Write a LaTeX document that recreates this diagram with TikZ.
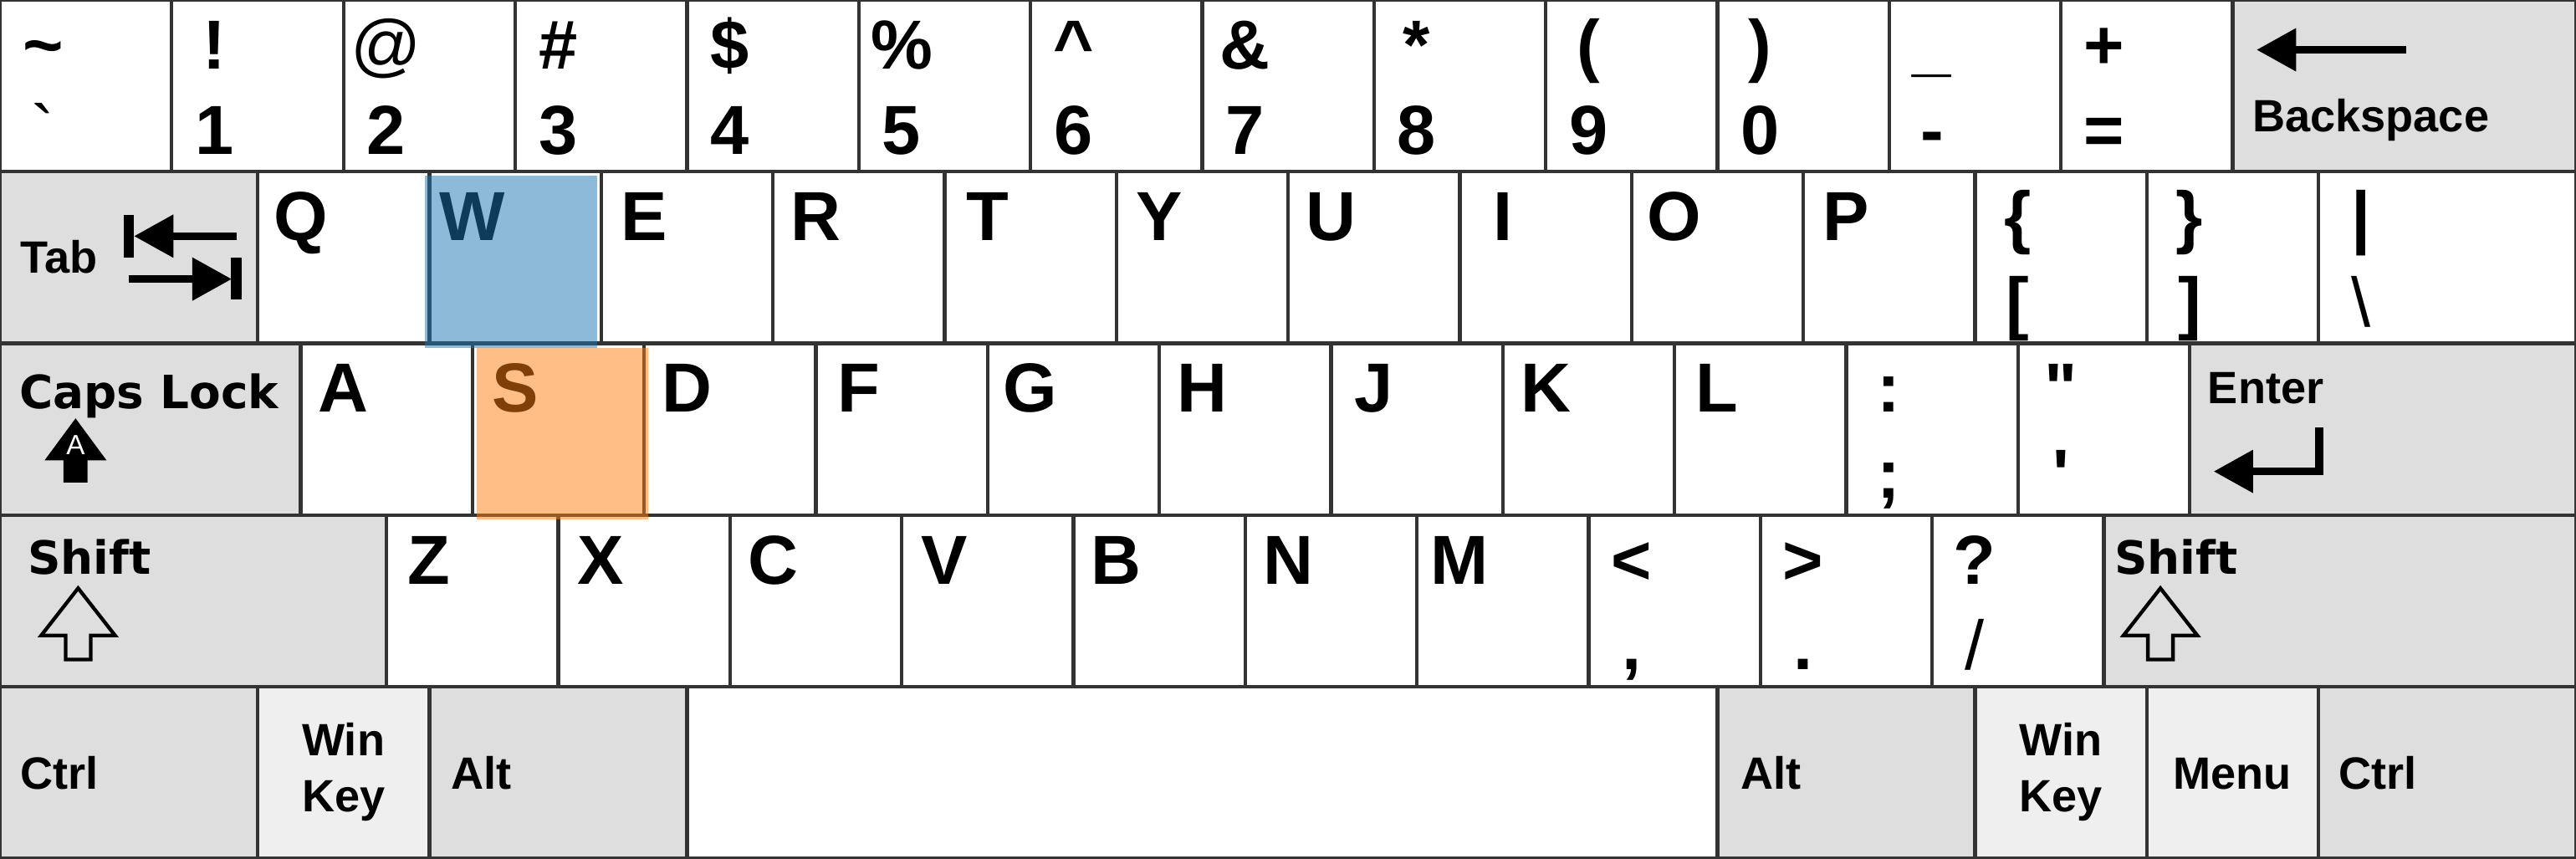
\documentclass[tikz,border=0pt]{standalone}
\usepackage{fontspec}
\usepackage{tikz}
\usetikzlibrary{arrows.meta}
\newfontfamily\keyfont{Liberation Sans}
\newfontfamily\widefont{DejaVu Sans}
\definecolor{keyline}{HTML}{333333}
\definecolor{modgray}{HTML}{DEDEDE}
\definecolor{litegray}{HTML}{EFEFEF}
\definecolor{tabblue}{HTML}{1F77B4}
\definecolor{taborange}{HTML}{FF7F0E}

\begin{document}
\begin{tikzpicture}[
    y=-1cm,
    key/.style={rectangle, draw=keyline, line width=0.6pt, fill=white, minimum width=1cm, minimum height=1cm, inner sep=0pt, outer sep=0pt, anchor=north west},
    modkey/.style={key, fill=modgray},
    litekey/.style={key, fill=litegray},
    toplabel/.style={anchor=base, inner sep=0pt, font=\keyfont\bfseries\fontsize{11.5}{12}\selectfont},
    botlabel/.style={toplabel},
    modlabel/.style={anchor=base west, inner sep=0pt, font=\keyfont\bfseries\fontsize{7.5}{9}\selectfont},
    modcenter/.style={modlabel, anchor=base},
    widelabel/.style={anchor=base west, inner sep=0pt, font=\widefont\bfseries\fontsize{7.6}{9}\selectfont},
    keyarrow/.style={line width=1.3pt, -{Triangle[length=0.23cm, width=0.24cm]}},
    keybar/.style={line width=1.8pt},
    hollowarrow/.style={draw=black, line width=0.6pt, line join=miter},
    hilite/.style={rectangle, minimum width=1cm, minimum height=1cm, inner sep=0pt, outer sep=0pt, anchor=north west, fill opacity=0.5}
]
\useasboundingbox (0,0) rectangle (15,5);

% Number row
\foreach \up/\low [count=\i from 0] in {\textasciitilde/{\mdseries\textasciigrave}, !/1, {\mdseries @}/2, \#/3, \$/4, \%/5, \textasciicircum/6, \&/7, */8, {(}/9, {)}/0, \_/-, +/=}
{
    \node[key] (num\i) at (\i, 0) {};
    \node[toplabel] (num\i-t) at (\i+0.25, 0.40) {\up};
    \node[botlabel] (num\i-b) at (\i+0.25, 0.90) {\low};
}
\node[modkey, minimum width=2cm] (bksp) at (13, 0) {};
\draw[keyarrow] (14.01, 0.29) -- (13.14, 0.29);
\node[modlabel] (bksp-txt) at (13.11, 0.765) {Backspace};

% Top letter row
\node[modkey, minimum width=1.5cm] (tab) at (0, 1) {};
\node[modlabel] (tab-txt) at (0.11, 1.59) {Tab};
\draw[keybar] (0.75, 1.25) -- (0.75, 1.50);
\draw[keyarrow] (1.38, 1.375) -- (0.78, 1.375);
\draw[keyarrow] (0.75, 1.625) -- (1.35, 1.625);
\draw[keybar] (1.375, 1.50) -- (1.375, 1.745);
\foreach \c [count=\i from 0] in {Q,W,E,R,T,Y,U,I,O,P}
{
    \node[key] (top\i) at (1.5+\i, 1) {};
    \node[toplabel] (top\i-t) at (1.75+\i, 1.40) {\c};
}
\foreach \up/\low/\x [count=\j] in {\{/[/11.5, \}/]/12.5}
{
    \node[key] (br\j) at (\x, 1) {};
    \node[toplabel] (br\j-t) at (\x+0.25, 1.40) {\up};
    \node[botlabel] (br\j-b) at (\x+0.25, 1.90) {\low};
}
\node[key, minimum width=1.5cm] (bslash) at (13.5, 1) {};
\node[toplabel] (bslash-t) at (13.75, 1.40) {|};
\node[botlabel] (bslash-b) at (13.75, 1.90) {\mdseries\textbackslash};

% Home row
\node[modkey, minimum width=1.75cm] (caps) at (0, 2) {};
\node[widelabel] (caps-txt) at (0.107, 2.38) {Caps Lock};
\fill (0.44, 2.436) -- ++(0.18, 0.244) -- ++(-0.11, 0) -- ++(0, 0.13) -- ++(-0.14, 0) -- ++(0, -0.13) -- ++(-0.11, 0) -- cycle;
\node[anchor=base, inner sep=0pt, text=white, font=\keyfont\fontsize{4.6}{5}\selectfont] (caps-a) at (0.44, 2.645) {A};
\foreach \c [count=\i from 0] in {A,S,D,F,G,H,J,K,L}
{
    \node[key] (home\i) at (1.75+\i, 2) {};
    \node[toplabel] (home\i-t) at (2.0+\i, 2.40) {\c};
}
\foreach \up/\low/\x [count=\j] in {:/;/10.75, \textquotedbl/\textquotesingle/11.75}
{
    \node[key] (semi\j) at (\x, 2) {};
    \node[toplabel] (semi\j-t) at (\x+0.25, 2.40) {\up};
    \node[botlabel] (semi\j-b) at (\x+0.25, 2.90) {\low};
}
\node[modkey, minimum width=2.25cm] (enter) at (12.75, 2) {};
\node[modlabel] (enter-txt) at (12.85, 2.35) {Enter};
\draw[keyarrow, line join=miter] (13.505, 2.49) -- (13.505, 2.745) -- (12.89, 2.745);

% Bottom letter row
\node[modkey, minimum width=2.25cm] (lshift) at (0, 3) {};
\node[widelabel] (lshift-txt) at (0.155, 3.345) {Shift};
\draw[hollowarrow] (0.455, 3.425) -- ++(0.215, 0.275) -- ++(-0.142, 0) -- ++(0, 0.14) -- ++(-0.146, 0) -- ++(0, -0.14) -- ++(-0.142, 0) -- cycle;
\foreach \c [count=\i from 0] in {Z,X,C,V,B,N,M}
{
    \node[key] (low\i) at (2.25+\i, 3) {};
    \node[toplabel] (low\i-t) at (2.5+\i, 3.40) {\c};
}
\foreach \up/\low/\x [count=\j] in {</{,}/9.25, >/./10.25, ?/{\mdseries /}/11.25}
{
    \node[key] (punct\j) at (\x, 3) {};
    \node[toplabel] (punct\j-t) at (\x+0.25, 3.40) {\up};
    \node[botlabel] (punct\j-b) at (\x+0.25, 3.90) {\low};
}
\node[modkey, minimum width=2.75cm] (rshift) at (12.25, 3) {};
\node[widelabel] (rshift-txt) at (12.305, 3.345) {Shift};
\draw[hollowarrow] (12.58, 3.425) -- ++(0.215, 0.275) -- ++(-0.142, 0) -- ++(0, 0.14) -- ++(-0.146, 0) -- ++(0, -0.14) -- ++(-0.142, 0) -- cycle;

% Space row
\node[modkey, minimum width=1.5cm] (lctrl) at (0, 4) {};
\node[litekey] (lwin) at (1.5, 4) {};
\node[modkey, minimum width=1.5cm] (lalt) at (2.5, 4) {};
\node[key, minimum width=6cm] (space) at (4, 4) {};
\node[modkey, minimum width=1.5cm] (ralt) at (10, 4) {};
\node[litekey] (rwin) at (11.5, 4) {};
\node[litekey] (menu) at (12.5, 4) {};
\node[modkey, minimum width=1.5cm] (rctrl) at (13.5, 4) {};
\node[modlabel] (lctrl-txt) at (0.11, 4.595) {Ctrl};
\node[modcenter] (lwin-t) at (2.0, 4.40) {Win};
\node[modcenter] (lwin-b) at (2.0, 4.725) {Key};
\node[modlabel] (lalt-txt) at (2.62, 4.595) {Alt};
\node[modlabel] (ralt-txt) at (10.13, 4.595) {Alt};
\node[modcenter] (rwin-t) at (12.0, 4.40) {Win};
\node[modcenter] (rwin-b) at (12.0, 4.725) {Key};
\node[modcenter] (menu-txt) at (13.0, 4.595) {Menu};
\node[modlabel] (rctrl-txt) at (13.61, 4.595) {Ctrl};

% Highlighted keys
\node[hilite, fill=tabblue] (w-mark) at (2.475, 1.025) {};
\node[hilite, fill=taborange] (s-mark) at (2.775, 2.025) {};

\end{tikzpicture}
\end{document}
